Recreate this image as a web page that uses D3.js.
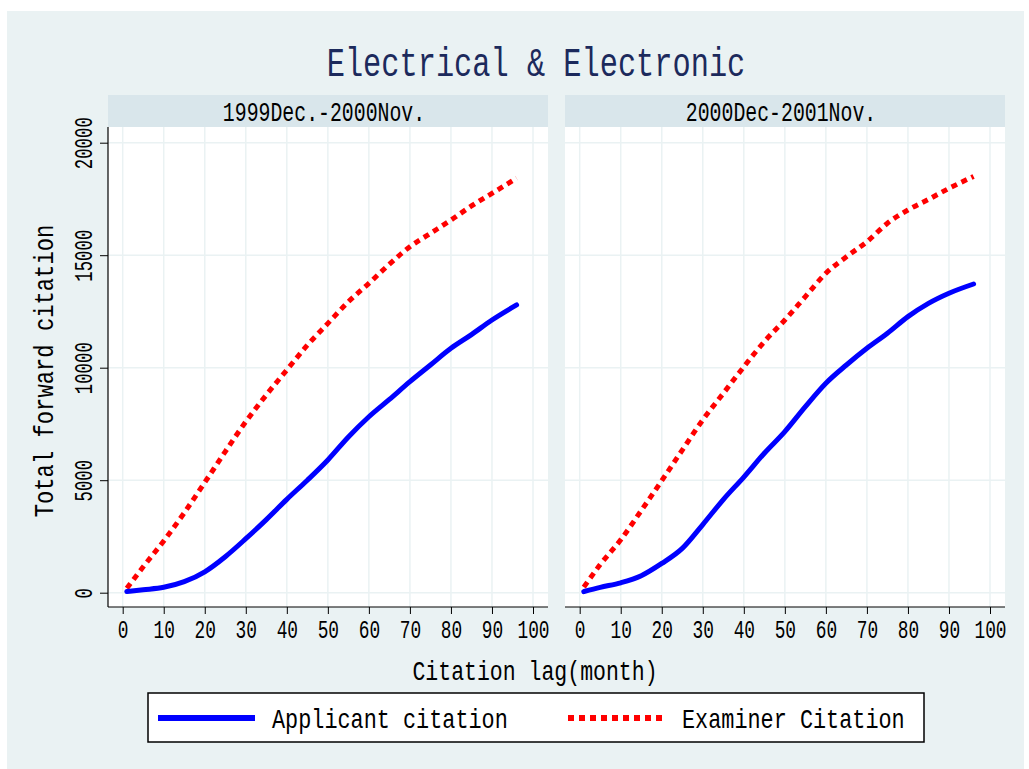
<!DOCTYPE html>
<html>
<head>
<meta charset="utf-8">
<script src="https://cdn.jsdelivr.net/npm/d3@7"></script>
<style>
  body { margin: 0; background: #fff; }
  text { font-family: "Liberation Mono", "DejaVu Sans Mono", monospace; }
</style>
</head>
<body>
<svg id="chart"></svg>
<script>
// values, cumulative citations by lag month
var months = [1, 5, 10, 15, 20, 25, 30, 35, 40, 45, 50, 55, 60, 65, 70, 75, 80, 85, 90, 96];

var examiner1 = [200, 1150, 2300, 3550, 4900, 6270, 7600, 8790, 9900, 11000,
                 11970, 12930, 13750, 14600, 15380, 15970, 16560, 17190, 17750, 18420];
var applicant1 = [50, 130, 240, 490, 930, 1600, 2400, 3250, 4150, 5000,
                  5900, 6920, 7820, 8590, 9380, 10120, 10860, 11470, 12120, 12790];

var examiner2 = [250, 1250, 2350, 3650, 4980, 6340, 7680, 8860, 10040, 11160,
                 12120, 13160, 14200, 14930, 15600, 16420, 17010, 17480, 17970, 18500];
var applicant2 = [50, 237, 440, 755, 1300, 1970, 3030, 4140, 5140, 6200,
                  7160, 8270, 9310, 10120, 10860, 11530, 12270, 12860, 13310, 13720];

var panelTitles = ["1999Dec.-2000Nov.", "2000Dec-2001Nov."];
var xTicks = [0, 10, 20, 30, 40, 50, 60, 70, 80, 90, 100];
var yTicks = [0, 5000, 10000, 15000, 20000];
var seriesNames = ["Applicant citation", "Examiner Citation"];

var screen = { width: 1029, height: 769 };

var svg = d3.select("#chart")
            .attr("width", screen.width)
            .attr("height", screen.height);

// squeeze monospace glyphs to the narrow look of the original font
var fit = function(sel, charW)
{
  sel.each(function()
  {
    var t = d3.select(this);
    t.attr("textLength", t.text().length * charW)
     .attr("lengthAdjust", "spacingAndGlyphs");
  });
}

// outer background
svg.append("rect")
   .attr("x", 7).attr("y", 11)
   .attr("width", 1017).attr("height", 758)
   .attr("fill", "#eaf2f3");

svg.append("text")
   .attr("x", 536).attr("y", 76)
   .attr("text-anchor", "middle")
   .attr("font-size", 41)
   .attr("fill", "#1c2a5c")
   .text("Electrical & Electronic")
   .call(fit, 18.2);

var plot = { top: 127, bottom: 607, stripTop: 95 };
var panels = [
  { left: 108, right: 548, title: panelTitles[0], applicant: applicant1, examiner: examiner1, yAxis: true },
  { left: 565, right: 1005, title: panelTitles[1], applicant: applicant2, examiner: examiner2, yAxis: false }
];

var yScale = d3.scaleLinear()
               .domain([0, 20000])
               .range([plot.bottom - 14.3, plot.top + 15.7]);

panels.forEach(function(p)
{
  var xScale = d3.scaleLinear()
                 .domain([0, 100])
                 .range([p.left + 14.7, p.right - 15]);

  var g = svg.append("g");

  // strip
  g.append("rect")
   .attr("x", p.left).attr("y", plot.stripTop)
   .attr("width", p.right - p.left).attr("height", plot.top - plot.stripTop)
   .attr("fill", "#d9e6eb");

  g.append("text")
   .attr("x", (p.left + p.right) / 2 - 4).attr("y", 121)
   .attr("text-anchor", "middle")
   .attr("font-size", 28)
   .attr("fill", "#000")
   .text(p.title)
   .call(fit, 11.9);

  // plot region
  g.append("rect")
   .attr("x", p.left).attr("y", plot.top)
   .attr("width", p.right - p.left).attr("height", plot.bottom - plot.top)
   .attr("fill", "#fff");

  g.selectAll(".vgrid")
   .data(xTicks)
   .enter()
   .append("line")
   .attr("x1", function(d) { return xScale(d); })
   .attr("x2", function(d) { return xScale(d); })
   .attr("y1", plot.top).attr("y2", plot.bottom)
   .attr("stroke", "#eaf2f3").attr("stroke-width", 1.5);

  g.selectAll(".hgrid")
   .data(yTicks)
   .enter()
   .append("line")
   .attr("y1", function(d) { return yScale(d); })
   .attr("y2", function(d) { return yScale(d); })
   .attr("x1", p.left).attr("x2", p.right)
   .attr("stroke", "#eaf2f3").attr("stroke-width", 1.5);

  // lines
  var line = d3.line()
               .x(function(d, i) { return xScale(months[i]); })
               .y(function(d) { return yScale(d); })
               .curve(d3.curveMonotoneX);

  g.append("path")
   .attr("d", line(p.examiner))
   .attr("fill", "none")
   .attr("stroke", "#ff0000")
   .attr("stroke-width", 5)
   .attr("stroke-dasharray", "6 5");

  g.append("path")
   .attr("d", line(p.applicant))
   .attr("fill", "none")
   .attr("stroke", "#0000ff")
   .attr("stroke-width", 5)
   .attr("stroke-linecap", "round")
   .attr("stroke-linejoin", "round");

  // x axis
  var xAxis = d3.axisBottom(xScale)
                .tickValues(xTicks)
                .tickSize(7)
                .tickSizeOuter(0)
                .tickPadding(6);

  var xg = g.append("g")
            .attr("transform", "translate(0," + plot.bottom + ")")
            .call(xAxis);
  xg.select(".domain").remove();
  xg.selectAll("line").attr("stroke", "#000");
  xg.selectAll("text")
    .attr("font-size", 25)
    .attr("font-family", "Liberation Mono")
    .attr("fill", "#000")
    .attr("dy", "0.71em")
    .each(function() { fit(d3.select(this), 10.7); });

  g.append("line")
   .attr("x1", p.left).attr("x2", p.right)
   .attr("y1", plot.bottom).attr("y2", plot.bottom)
   .attr("stroke", "#000").attr("stroke-width", 1.2);

  if (p.yAxis)
  {
    var yAxis = d3.axisLeft(yScale)
                  .tickValues(yTicks)
                  .tickFormat(d3.format("d"))
                  .tickSize(8)
                  .tickSizeOuter(0);

    var yg = g.append("g")
              .attr("transform", "translate(" + p.left + ",0)")
              .call(yAxis);
    yg.select(".domain").remove();
    yg.selectAll("line").attr("stroke", "#000");
    yg.selectAll("text")
      .attr("transform", "rotate(-90)")
      .attr("x", 0).attr("y", -16).attr("dy", 0)
      .attr("text-anchor", "middle")
      .attr("font-size", 25)
      .attr("font-family", "Liberation Mono")
      .attr("fill", "#000")
      .each(function() { fit(d3.select(this), 10.4); });

    g.append("line")
     .attr("x1", p.left).attr("x2", p.left)
     .attr("y1", plot.top).attr("y2", plot.bottom)
     .attr("stroke", "#000").attr("stroke-width", 1.2);
  }
});

// axis titles
svg.append("text")
   .attr("transform", "translate(53,371) rotate(-90)")
   .attr("text-anchor", "middle")
   .attr("font-size", 28)
   .text("Total forward citation")
   .call(fit, 13.3);

svg.append("text")
   .attr("x", 535).attr("y", 680)
   .attr("text-anchor", "middle")
   .attr("font-size", 28)
   .text("Citation lag(month)")
   .call(fit, 12.9);

// legend
var legend = svg.append("g").classed("legend", true);

legend.append("rect")
      .attr("x", 148).attr("y", 693)
      .attr("width", 776).attr("height", 49)
      .attr("fill", "#fff")
      .attr("stroke", "#000")
      .attr("stroke-width", 1.5);

var legendItems = [
  { name: seriesNames[0], color: "#0000ff", dash: null, x: 158 },
  { name: seriesNames[1], color: "#ff0000", dash: "6 5", x: 568 }
];

var items = legend.selectAll(".item")
                  .data(legendItems)
                  .enter()
                  .append("g")
                  .attr("transform", function(d) { return "translate(" + d.x + ",718)"; });

items.append("line")
     .attr("x1", 0).attr("x2", 97)
     .attr("y1", 0).attr("y2", 0)
     .attr("stroke", function(d) { return d.color; })
     .attr("stroke-width", 6)
     .attr("stroke-dasharray", function(d) { return d.dash; });

items.append("text")
     .attr("x", 114).attr("y", 10)
     .attr("font-size", 28)
     .text(function(d) { return d.name; })
     .each(function() { fit(d3.select(this), 13.1); });
</script>
</body>
</html>
